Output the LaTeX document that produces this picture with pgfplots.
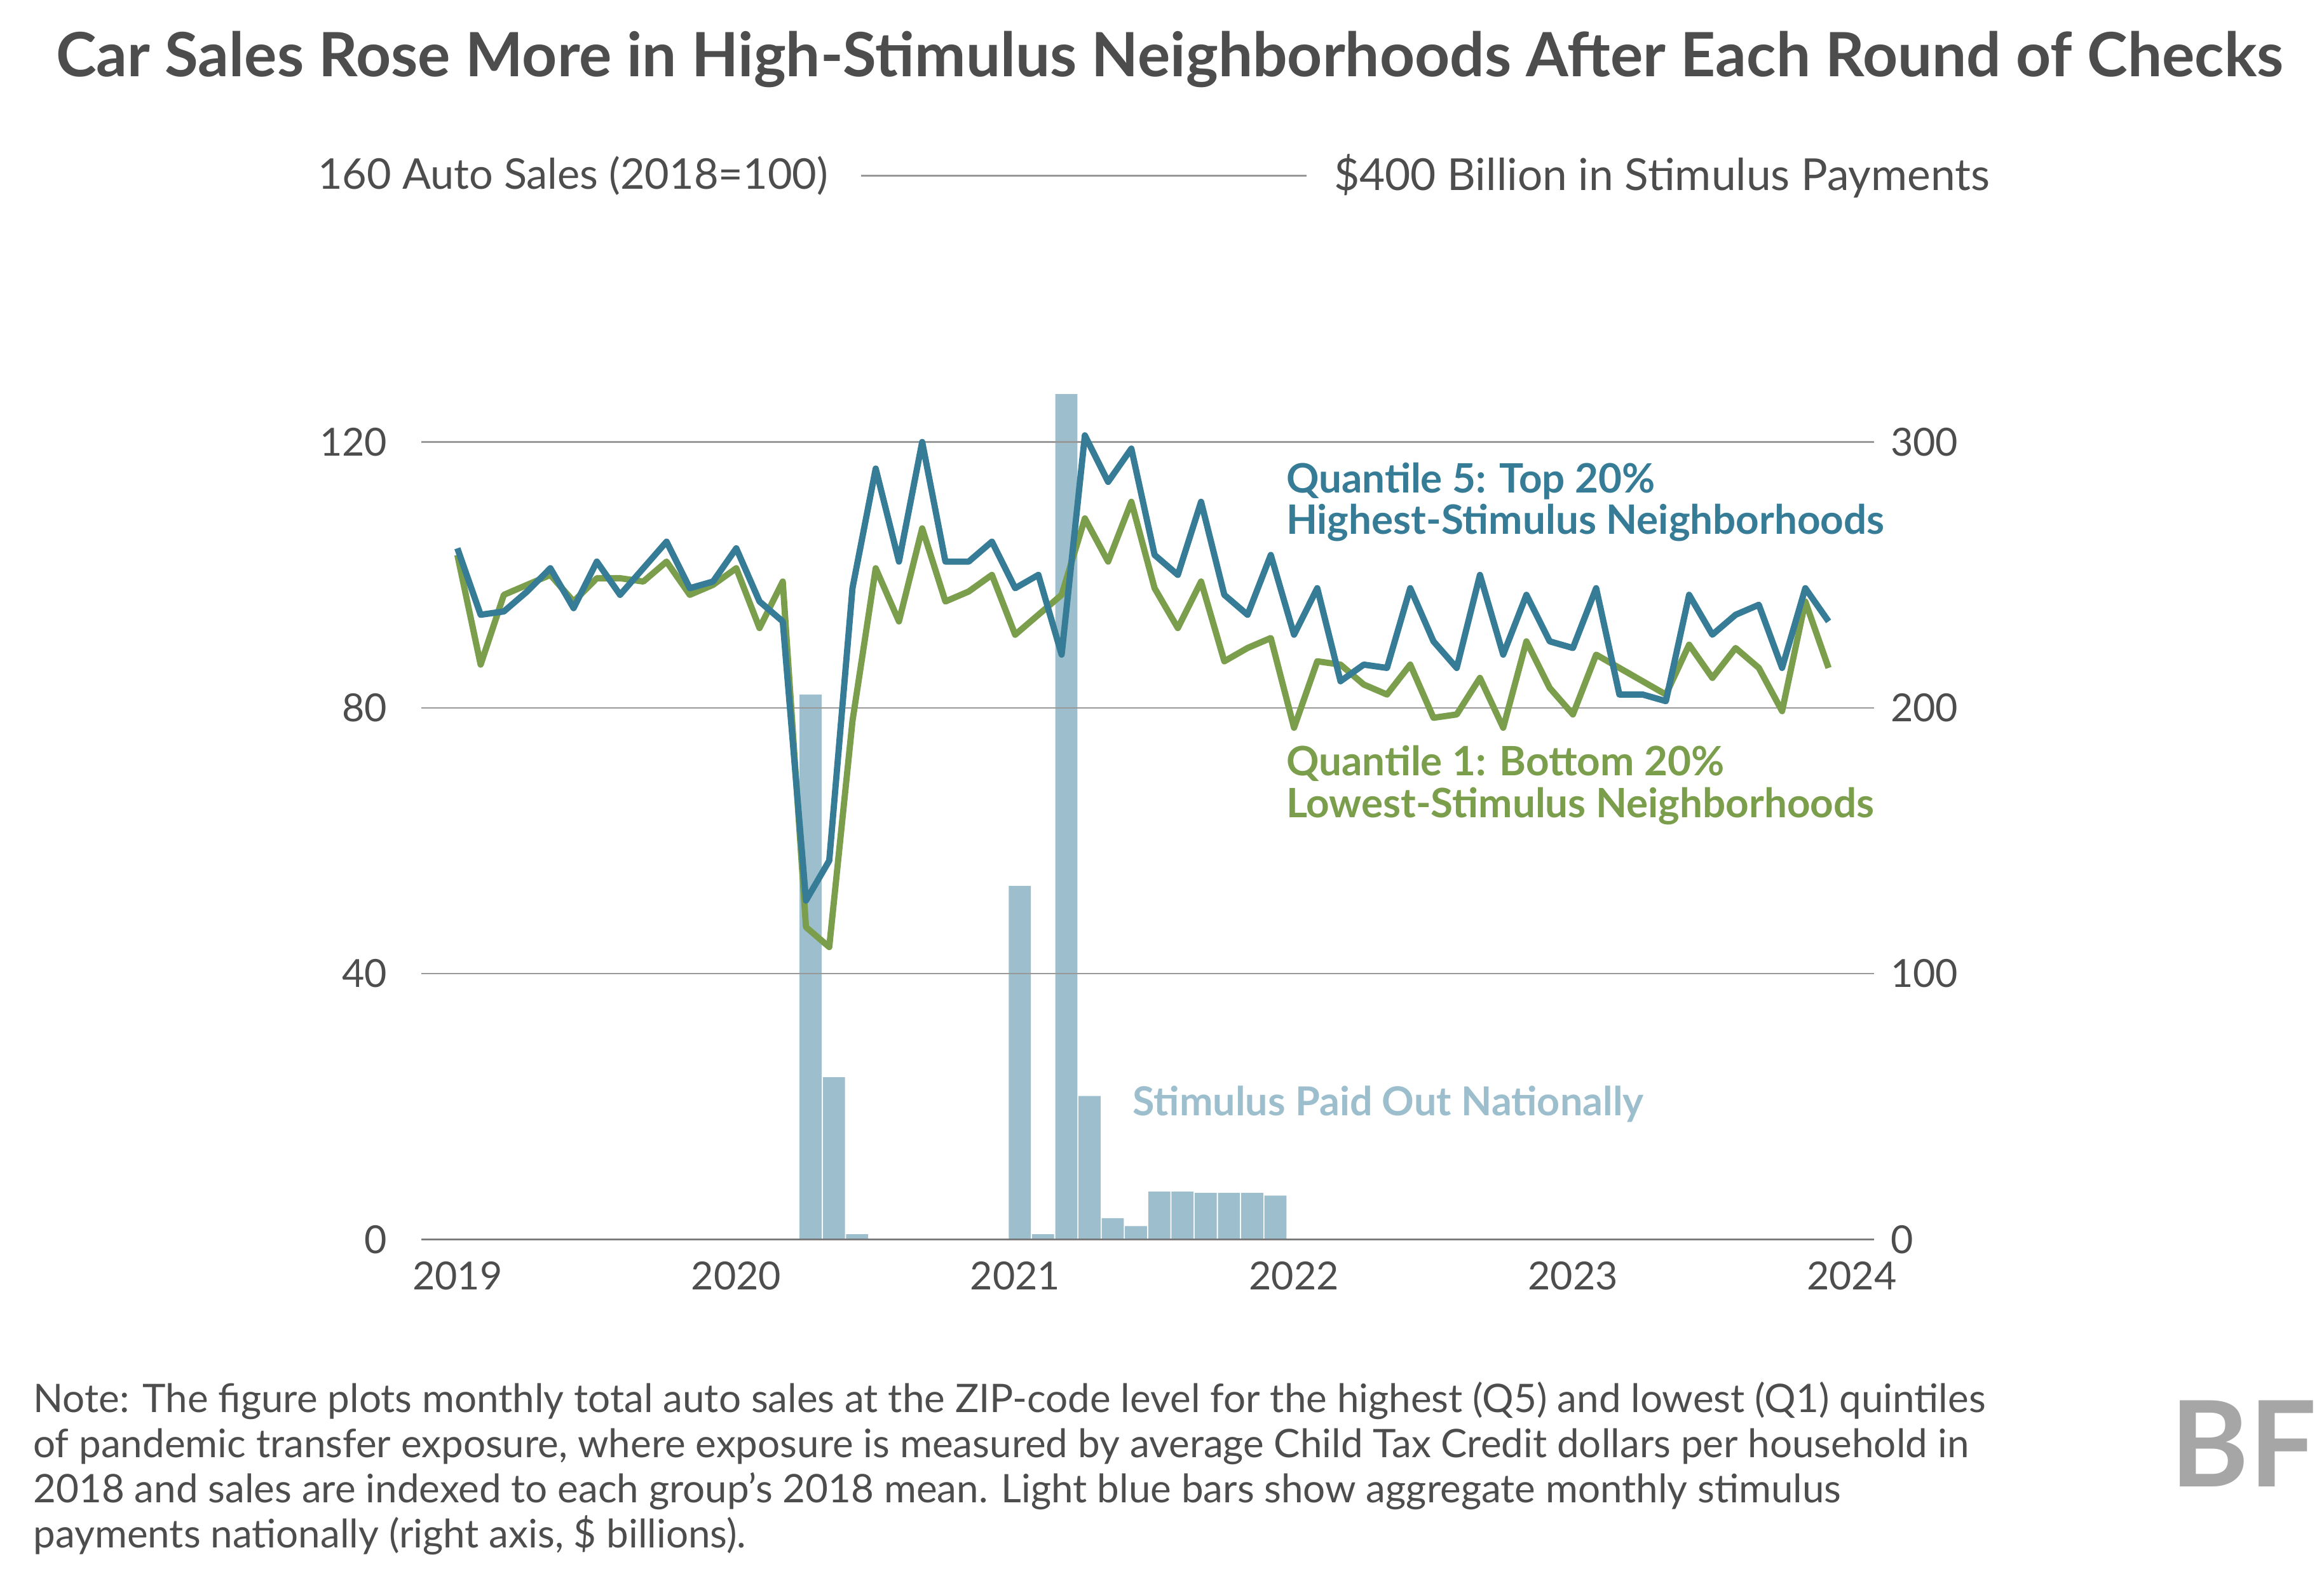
\documentclass[border=0pt]{standalone}
\usepackage{pgfplots}
\pgfplotsset{compat=1.18}
\usepackage{fontspec}
\setmainfont{Lato}
\definecolor{qblue}{HTML}{367C96}
\definecolor{qgreen}{HTML}{7A9E4B}
\definecolor{qbar}{HTML}{9DBFCD}
\definecolor{txt}{HTML}{4D4D4D}
\begin{document}
\begin{tikzpicture}
\path (0pt,0pt) rectangle (780pt,533.5pt);
\pgfplotsset{base/.style={at={(141.5pt,117.5pt)},anchor=south west,width=487.5pt,height=285.5pt,scale only axis,
 xmin=-1.54,xmax=60.96,ymin=0,axis line style={draw=none},tick style={draw=none},
 ticklabel style={font=\fontsize{13}{15}\selectfont,text=txt},
 /pgf/number format/assume math mode=true}}
\begin{axis}[base,ymax=320,axis y line*=right,ytick={0,100,200,300},xtick=\empty,
 yticklabel style={anchor=west,xshift=2pt},ybar,bar width=0.95]
\addplot[fill=qbar,draw=none] coordinates {(15.2,205)(16.2,61)(17.2,2)(24.2,133)(25.2,2)(26.2,318)(27.2,54)(28.2,8)(29.2,5)(30.2,18)(31.2,18)(32.2,17.5)(33.2,17.5)(34.2,17.5)(35.2,16.5)};
\end{axis}
\begin{axis}[base,ymax=128,axis y line*=left,ytick={0,40,80,120},ymajorgrids,
 grid style={gray!80,line width=0.5pt},xtick={0,12,24,36,48,60},xticklabels={2019,2020,2021,2022,2023,2024},
 yticklabel style={anchor=east,xshift=-8pt},xticklabel style={yshift=-4pt}]
\draw[gray!90!black,line width=0.8pt] (axis cs:-1.54,0) -- (axis cs:60.96,0);
\addplot[qgreen,line width=2.1pt,line join=round] coordinates {
(0,103)(1,86.5)(2,97)(3,98.5)(4,100)(5,96)(6,99.5)(7,99.5)(8,99)(9,102)(10,97)(11,98.5)
(12,101)(13,92)(14,99)(15,47)(16,44)(17,78)(18,101)(19,93)(20,107)(21,96)(22,97.5)(23,100)
(24,91)(25,94)(26,97)(27,108.5)(28,102)(29,111)(30,98)(31,92)(32,99)(33,87)(34,89)(35,90.5)
(36,77)(37,87)(38,86.5)(39,83.5)(40,82)(41,86.5)(42,78.5)(43,79)(44,84.5)(45,77)(46,90)(47,83)
(48,79)(49,88)(50,86)(51,84)(52,82)(53,89.5)(54,84.5)(55,89)(56,86)(57,79.5)(58,96)(59,86)};
\addplot[qblue,line width=2.1pt,line join=round] coordinates {
(0,104)(1,94)(2,94.5)(3,97.5)(4,101)(5,95)(6,102)(7,97)(8,101)(9,105)(10,98)(11,99)
(12,104)(13,96)(14,93)(15,51)(16,57)(17,98)(18,116)(19,102)(20,120)(21,102)(22,102)(23,105)
(24,98)(25,100)(26,88)(27,121)(28,114)(29,119)(30,103)(31,100)(32,111)(33,97)(34,94)(35,103)
(36,91)(37,98)(38,84)(39,86.5)(40,86)(41,98)(42,90)(43,86)(44,100)(45,88)(46,97)(47,90)
(48,89)(49,98)(50,82)(51,82)(52,81)(53,97)(54,91)(55,94)(56,95.5)(57,86)(58,98)(59,93)};
\end{axis}
\node[anchor=center,text=txt,font=\fontsize{20.5}{22}\selectfont\bfseries] at (392.5pt,513.5pt) {Car Sales Rose More in High-Stimulus Neighborhoods After Each Round of Checks};
\node[anchor=west,text=txt,font=\fontsize{14.2}{16}\selectfont,inner sep=0] at (106.5pt,474.5pt) {160 Auto Sales (2018=100)};
\draw[gray!80,line width=0.5pt] (289pt,474.5pt) -- (438.5pt,474.5pt);
\node[anchor=west,text=txt,font=\fontsize{14.8}{16}\selectfont,inner sep=0] at (447.5pt,474.5pt) {\$400 Billion in Stimulus Payments};
\node[anchor=north west,align=left,text=qblue,font=\fontsize{13.6}{14}\selectfont\bfseries,inner sep=0] at (431.5pt,378.5pt) {Quantile 5: Top 20\%\\Highest-Stimulus Neighborhoods};
\node[anchor=north west,align=left,text=qgreen,font=\fontsize{13.6}{14}\selectfont\bfseries,inner sep=0] at (431.5pt,283.5pt) {Quantile 1: Bottom 20\%\\Lowest-Stimulus Neighborhoods};
\node[anchor=west,text=qbar,font=\fontsize{13.4}{14}\selectfont\bfseries,inner sep=0] at (380pt,163pt) {Stimulus Paid Out Nationally};
\node[anchor=north west,align=left,text=txt,font=\fontsize{13.2}{15.2}\selectfont,inner sep=0] at (11pt,70pt) {Note: The figure plots monthly total auto sales at the ZIP-code level for the highest (Q5) and lowest (Q1) quintiles\\of pandemic transfer exposure, where exposure is measured by average Child Tax Credit dollars per household in\\2018 and sales are indexed to each group's 2018 mean. Light blue bars show aggregate monthly stimulus\\payments nationally (right axis, \$ billions).};
\node[anchor=center,text=gray!70,font=\fontsize{40}{42}\selectfont\bfseries,inner sep=0] at (753pt,49pt) {BF};
\end{tikzpicture}
\end{document}
